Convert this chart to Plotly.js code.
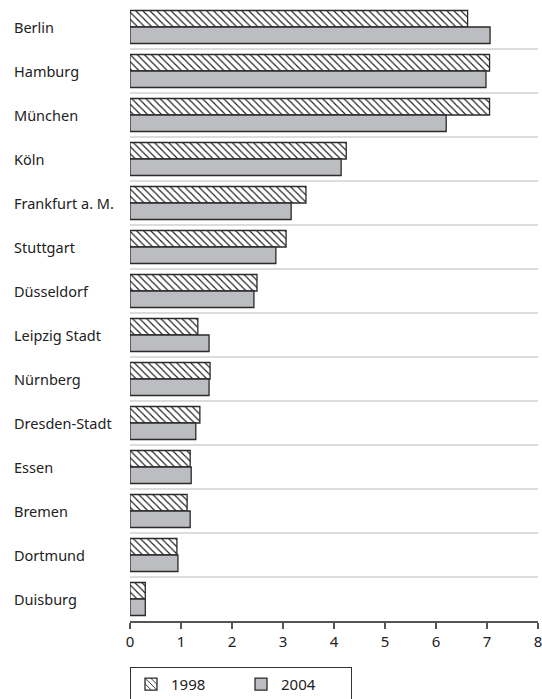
<!DOCTYPE html>
<html>
<head>
<meta charset="utf-8">
<script src="https://cdn.plot.ly/plotly-3.0.1.min.js"></script>
<style>
html,body{margin:0;padding:0;background:#fff;}
#chart{width:542px;height:699px;}
</style>
</head>
<body>
<div id="chart"></div>
<script>
const cities = ["Berlin","Hamburg","München","Köln","Frankfurt a. M.","Stuttgart","Düsseldorf","Leipzig Stadt","Nürnberg","Dresden-Stadt","Essen","Bremen","Dortmund","Duisburg"];
const values1998 = [6.62, 7.05, 7.05, 4.24, 3.45, 3.06, 2.49, 1.33, 1.57, 1.37, 1.18, 1.12, 0.92, 0.30];
const values2004 = [7.06, 6.98, 6.20, 4.14, 3.16, 2.86, 2.43, 1.55, 1.55, 1.29, 1.20, 1.18, 0.94, 0.30];
const seriesNames = ["1998", "2004"];
const xTicks = [0,1,2,3,4,5,6,7,8];

const FONT = "Noto Sans, Open Sans, sans-serif";

const traces = [
  {
    type: "bar", orientation: "h", name: seriesNames[0],
    y: cities, x: values1998,
    marker: {
      color: "white",
      line: {color: "#2a2a2a", width: 1.3},
      pattern: {shape: "\\", fgcolor: "#1a1a1a", bgcolor: "white", size: 5, solidity: 0.22}
    },
    hoverinfo: "x+y"
  },
  {
    type: "bar", orientation: "h", name: seriesNames[1],
    y: cities, x: values2004,
    marker: {color: "#bcbdc1", line: {color: "#2a2a2a", width: 1.3}},
    hoverinfo: "x+y"
  }
];

const annotations = cities.map(c => ({
  xref: "paper", yref: "y", x: -0.29, y: c,
  xanchor: "left", yanchor: "middle", showarrow: false,
  text: c, font: {family: FONT, size: 14.5, color: "#222"}
}));

const layout = {
  width: 542, height: 699,
  margin: {l: 130, r: 4, t: 5, b: 78},
  paper_bgcolor: "white", plot_bgcolor: "white",
  barmode: "group", bargap: 0.25, bargroupgap: 0,
  font: {family: FONT, color: "#222"},
  showlegend: true,
  legend: {
    orientation: "h", xref: "paper", x: 0, xanchor: "left",
    yref: "container", y: 0.046, yanchor: "top",
    bordercolor: "#333", borderwidth: 1,
    entrywidth: 65, entrywidthmode: "pixels", itemwidth: 30,
    font: {family: FONT, size: 15, color: "#222"},
    traceorder: "normal"
  },
  xaxis: {
    range: [0, 8.0001], tickvals: xTicks, ticktext: xTicks.map(String),
    ticklabeloverflow: "allow",
    showgrid: false, zeroline: false,
    showline: true, linecolor: "#555", linewidth: 1.5,
    ticks: "outside", ticklen: 6, tickcolor: "#555", tickwidth: 1.5,
    tickfont: {family: FONT, size: 15, color: "#222"},
    fixedrange: true, automargin: false
  },
  yaxis: {
    type: "category", categoryorder: "array", categoryarray: cities,
    autorange: "reversed",
    showticklabels: false, ticks: "",
    tickson: "boundaries", showgrid: true, gridcolor: "#dcdcdc", gridwidth: 1.5,
    zeroline: false, showline: false, fixedrange: true, automargin: false
  },
  annotations: annotations
};

Plotly.newPlot("chart", traces, layout, {displayModeBar: false, staticPlot: true});
</script>
</body>
</html>
